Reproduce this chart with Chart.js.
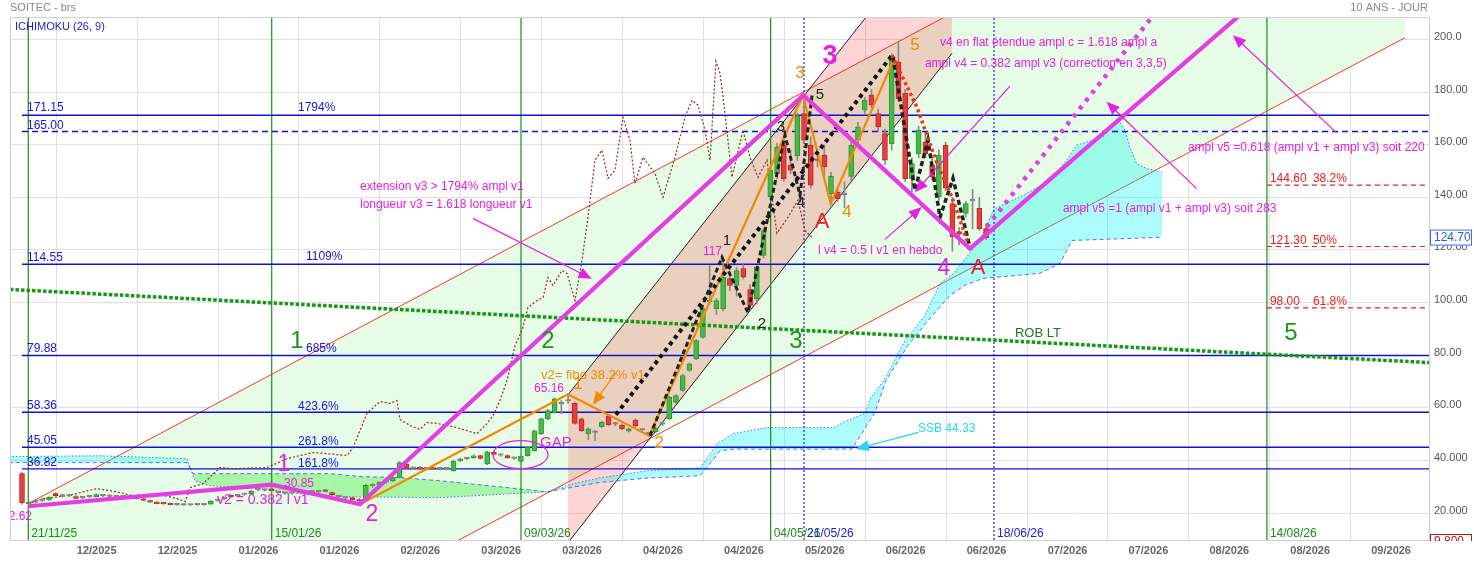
<!DOCTYPE html>
<html>
<head>
<meta charset="utf-8">
<script src="https://cdn.jsdelivr.net/npm/chart.js@4.4.1/dist/chart.umd.min.js"></script>
<style>
html,body{margin:0;padding:0;background:#fff;}
canvas{display:block;}
</style>
</head>
<body>
<canvas id="c" width="1474" height="561"></canvas>
<script>
// x = bar index (one daily bar per unit), y = price
const X_MIN = -1.78, X_MAX = 208.7;
const Y_MIN = 9.8, Y_MAX = 208.5;

const xTickPos = [11.08, 23.08, 35.08, 47.08, 59.08, 71.08, 83.08, 95.08, 107.08, 119.08, 131.08, 143.08, 155.08, 167.08, 179.08, 191.08, 203.08];
const xLabels = ['12/2025','12/2025','01/2026','01/2026','02/2026','03/2026','03/2026','04/2026','04/2026','05/2026','06/2026','06/2026','07/2026','07/2026','08/2026','08/2026','09/2026'];
const yTicks = [20, 40, 60, 80, 100, 120, 140, 160, 180, 200];
const yLabels = ['20.000','40.000','60.00','80.00','100.00','120.00','140.00','160.00','180.00','200.0'];

// daily candles [open, high, low, close], index = bar
const candles = [
  [35.0,35.6,23.4,24.0],[23.6,24.4,22.62,24.1],[24.2,25.0,23.8,24.5],[24.8,25.6,24.4,25.1],[25.0,26.2,24.8,26.0],
  [27.4,27.8,26.4,26.6],[26.5,27.1,26.1,26.7],[26.6,27.2,26.2,26.5],[26.3,26.8,25.5,25.6],[25.9,26.4,25.5,26.0],
  [26.2,26.8,25.9,26.4],[26.3,27.3,26.1,27.1],[26.8,27.1,26.3,26.6],[26.5,26.9,26.1,26.4],[26.3,26.7,25.9,26.2],
  [26.3,26.6,25.9,26.3],[26.1,26.5,25.7,26.0],[26.1,26.4,25.4,25.5],[25.4,25.6,24.7,24.8],[24.8,25.0,24.1,24.2],
  [24.2,24.4,23.5,23.6],[23.9,24.1,23.4,23.5],[23.7,23.9,23.1,23.2],[23.2,23.5,22.9,23.2],[23.2,23.5,22.9,23.1],
  [23.1,23.4,22.9,23.2],[23.2,23.5,22.9,23.2],[23.2,23.5,22.9,23.3],[23.4,24.8,23.3,24.6],[24.8,25.3,24.5,24.9],
  [25.4,25.9,25.1,25.6],[26.8,27.0,26.0,26.2],[26.6,27.1,26.3,26.7],[27.1,27.6,26.8,27.2],[27.3,28.6,27.1,28.4],
  [28.8,29.3,28.5,28.9],[28.7,29.2,28.4,28.8],[29.2,30.85,28.4,28.5],[28.0,28.3,27.5,27.8],[27.5,27.9,27.1,27.5],
  [27.6,28.0,27.2,27.6],[28.1,28.4,27.7,28.1],[28.0,28.4,27.7,28.1],[28.1,28.5,27.8,28.2],[28.1,28.4,27.8,28.1],
  [28.9,29.1,28.2,28.3],[27.8,28.0,26.9,27.0],[26.5,26.8,26.0,26.3],[25.9,26.2,25.4,25.7],[25.9,26.1,25.0,25.1],
  [25.2,25.5,23.4,24.6],[25.0,31.0,24.8,30.6],[30.4,31.2,29.8,30.6],[30.6,32.0,30.3,31.8],[31.8,32.4,31.4,32.0],
  [32.2,33.8,32.0,33.5],[33.6,39.6,33.4,39.2],[38.6,39.2,36.8,37.1],[37.0,37.5,36.6,37.0],[37.4,37.8,36.6,36.8],
  [36.8,37.2,36.4,36.9],[37.3,37.5,36.5,36.7],[36.8,37.2,36.4,36.8],[36.8,37.2,36.4,36.9],[36.1,40.2,35.9,39.8],
  [39.9,40.9,39.6,40.6],[40.7,41.2,40.3,40.8],[41.0,42.2,40.8,41.8],[41.9,42.1,40.6,40.8],[38.7,43.6,38.4,43.3],
  [43.1,43.5,42.1,42.3],[42.0,42.5,41.6,42.1],[41.9,42.2,40.9,41.0],[40.8,41.3,40.4,40.9],[39.7,41.9,39.4,41.7],
  [41.8,45.4,41.6,45.0],[43.7,51.6,43.5,51.3],[50.1,56.2,49.8,55.8],[55.8,59.4,55.5,59.0],[58.3,63.8,58.0,63.4],
  [61.6,62.8,57.8,61.8],[62.6,65.16,61.8,62.9],[61.7,62.2,53.8,54.1],[55.8,56.2,51.0,51.3],[50.1,52.4,47.9,52.0],
  [50.7,51.4,47.5,50.9],[52.9,55.0,52.5,54.5],[57.0,57.4,53.2,53.5],[53.8,54.5,53.3,54.0],[53.5,53.9,51.7,52.0],
  [51.1,52.4,50.8,52.0],[55.4,55.8,52.9,53.2],[51.7,52.2,51.2,51.6],[50.2,50.8,49.4,50.1],[51.0,52.6,50.6,52.2],
  [53.8,54.6,53.3,53.9],[55.9,64.4,55.6,64.0],[62.1,65.0,61.8,64.7],[66.6,72.7,66.3,72.3],[74.2,77.1,73.9,76.7],
  [78.6,86.0,78.3,85.6],[86.8,98.1,86.5,97.7],[100.3,114.1,99.5,100.7],[97.7,101.5,95.5,100.8],[97.7,117.0,96.8,109.7],
  [109.1,111.0,104.5,106.5],[106.5,113.4,102.5,112.2],[112.9,114.5,109.0,109.7],[104.9,106.8,96.9,98.9],[101.5,114.0,99.5,113.5],
  [117.9,128.2,117.0,127.4],[140.1,151.0,139.0,150.3],[149.0,160.5,147.0,159.1],[159.8,162.0,146.0,147.1],[152.2,158.0,149.0,150.3],
  [155.8,172.0,154.0,171.0],[171.8,178.8,160.5,161.7],[159.8,163.0,143.5,144.6],[154.5,158.5,151.5,154.0],[156.0,160.0,147.5,151.5],
  [141.4,149.5,137.6,148.0],[142.0,143.5,138.5,139.5],[141.0,146.0,136.0,141.3],[147.9,161.0,146.5,159.8],[161.7,168.5,160.0,166.8],
  [173.1,178.0,171.5,176.9],[178.8,181.0,174.0,175.0],[171.8,173.5,165.0,166.7],[164.2,166.0,152.5,154.1],[160.4,194.5,158.0,193.4],
  [191.5,199.0,176.5,177.5],[179.5,181.0,146.0,147.1],[147.1,155.0,142.0,152.8],[156.6,167.0,155.0,165.5],[161.0,164.0,155.0,156.6],
  [152.2,155.0,146.5,147.7],[140.1,158.0,139.0,156.0],[159.8,161.0,142.5,143.5],[137.6,140.0,119.5,124.9],[127.0,128.5,122.0,126.0],
  [133.9,138.5,132.5,137.6],[138.7,143.0,128.0,139.0],[135.8,140.0,127.5,128.1],[128.1,130.0,124.0,124.7]
];

// ichimoku kumo borders [x, price]
const ssaPts = [[-3,41.45],[11.57,41.8],[24.47,40.7],[25.66,32.3],[27.89,30.4],[35.3,29.3],[41.23,27.4],[48.65,26.2],[62.0,25.9],[77.87,28.1],
  [81.73,31.2],[85.73,33.4],[92.7,36.1],[100.56,37.2],[103.09,46.4],[105.46,50.2],[110.5,52.5],[120.44,52.5],[121.77,54.4],[125.04,57.9],
  [125.93,64.0],[127.85,70.4],[130.97,85.5],[133.93,95.1],[136.16,107.2],[138.13,111.0],[140.12,117.3],[141.1,120.5],[142.59,126.2],[144.07,135.2],
  [145.32,137.0],[148.52,140.8],[152.48,146.5],[154.96,154.1],[156.44,159.8],[157.93,161.0],[160.38,162.9],[161.87,168.0],[162.86,168.6],[163.6,165.5],
  [164.34,159.1],[165.34,152.8],[166.82,150.9],[169.1,149.6]];
const ssbPts = [[-3,39.2],[24.47,39.2],[25.36,35.0],[45.68,35.0],[50.13,33.9],[56.07,33.5],[62.0,32.3],[70.9,30.0],[77.87,28.1],[85.73,31.7],
  [92.7,33.3],[100.56,34.2],[101.6,37.4],[103.53,43.7],[105.46,44.33],[123.11,44.33],[126.52,58.3],[128.15,70.4],[131.41,83.7],[134.67,94.0],
  [137.64,102.7],[139.87,106.6],[142.54,109.2],[150.99,111.1],[153.96,114.9],[155.74,123.6],[169.1,124.8]];
const chikouPts = [[0.89,23.6],[3.11,25.5],[6.67,26.6],[11.12,29.3],[14.09,28.1],[16.46,26.6],[20.02,27.4],[22.99,25.5],[24.18,24.3],[24.92,29.7],
  [26.85,31.2],[29.37,37.3],[31.3,36.9],[36.34,37.3],[39.31,40.7],[41.23,41.9],[43.16,43.0],[45.24,42.6],[48.21,41.9],[49.1,44.9],
  [51.17,57.9],[53.1,62.4],[54.58,61.7],[55.62,62.8],[56.06,55.6],[57.55,53.3],[59.03,51.8],[60.07,54.4],[61.55,54.1],[63.04,53.3],
  [64.52,52.5],[66.01,51.3],[67.49,50.2],[68.97,54.0],[69.86,57.1],[70.9,62.8],[71.94,70.4],[73.13,83.7],[74.16,89.4],[75.05,98.1],
  [76.39,100.8],[77.28,101.9],[78.02,109.5],[78.76,106.5],[80.1,112.2],[80.84,111.1],[82.03,100.8],[83.06,116.0],[83.95,132.4],[84.99,154.1],
  [86.03,157.9],[86.92,147.2],[87.96,150.3],[89.14,170.4],[90.18,161.7],[90.92,145.3],[92.11,155.2],[93.89,149.1],[95.08,140.0],[96.86,155.2],
  [98.34,170.4],[99.38,176.9],[100.27,175.0],[101.31,165.5],[102.05,154.1],[102.94,191.7],[103.53,187.2],[104.27,172.0],[105.31,147.6],[106.94,165.5],
  [107.98,155.2],[109.17,147.6],[110.5,154.1],[111.98,126.3],[113.62,132.4],[115.1,138.9],[116.14,127.4],[117.17,124.8]];

// drawn channels, trend lines and wave counts [x, price]
const channelUpper = [[0.89,23.6],[205.13,301.3]];
const channelLower = [[0.89,-77.1],[205.13,200.6]];
const blackUpper = [[81.0,65.0],[137.94,249.8]];
const blackLower = [[81.0,8.8],[137.94,194.7]];
const robLT = [[-1.78,105.0],[208.7,77.2]];
const waveMain = [[0.93,22.62],[37.04,30.85],[50.13,23.4],[115.88,178.8],[140.61,120.5],[185,218.9]];
const waveAlt = [[143.1,128.7],[170,216.3]];
const waveOrange = [[50.13,23.4],[80.99,65.16],[93.04,49.4],[115.84,178.8],[119.95,137.6],[129.5,193.4]];
const blackDotted = [[88.1,57.4],[129.19,194.4]];
const subWave3 = [[93.15,49.4],[103.83,117.2],[107.68,96.2],[113.17,163.6],[115.4,140.8],[117.2,178.8]];
const subWave4 = [[129.19,193.3],[132.45,142.7],[134.38,161.7],[136.16,132.4],[138.09,147.2],[140.61,121.0]];
const redDotted = [[129.04,194.0],[132.75,174.2],[135.72,152.9],[137.95,140.0],[140.32,122.5]];

const levels = [171.15, 165.00, 114.55, 79.88, 58.36, 45.05, 36.82];
const fibLevels = [144.60, 121.30, 98.00];
const greenDates = [[0.93,'21/11/25'],[37.04,'15/01/26'],[74.02,'09/03/26'],[111.05,'04/05/26'],[184.66,'14/08/26']];
const blueDates = [[116.0,'21/05/26'],[144.17,'18/06/26']];
const lastPrice = 124.70;
const lowPrice = 9.800;

// annotation text: [text, x, price, style, align]
const notes = [
  ['171.15',0.74,173.86,'blue','left'],['165.00',0.74,167.39,'blue','left'],['1794%',40.94,173.86,'blue','left'],
  ['114.55',0.74,117.17,'blue','left'],['1109%',42.12,117.55,'blue','left'],
  ['79.88',0.74,82.54,'blue','left'],['685%',42.12,82.54,'blue','left'],
  ['58.36',0.74,60.85,'blue','left'],['423.6%',40.94,60.47,'blue','left'],
  ['45.05',0.74,47.53,'blue','left'],['261.8%',40.94,47.15,'blue','left'],
  ['36.82',0.74,39.16,'blue','left'],['161.8%',40.94,38.78,'blue','left'],
  ['144.60',185.1,147.2,'red','left'],['38.2%',191.48,147.2,'red','left'],
  ['121.30',185.1,123.63,'red','left'],['50%',191.48,123.63,'red','left'],
  ['98.00',185.1,100.42,'red','left'],['61.8%',191.48,100.42,'red','left'],
  ['1',40.79,85.2,'green','center'],['2',78.02,85.2,'green','center'],['3',114.8,85.2,'green','center'],['5',188.22,88.25,'green','center'],
  ['ROB LT',147.28,88.25,'rob','left'],
  ['1',38.86,38.4,'magBig','center'],['2',51.91,19.4,'magBig','center'],['3',119.85,193.3,'magTop','center'],['4',136.75,113.0,'magBig','center'],
  ['30.85',38.86,31.2,'mag','left'],['22.62',-2.97,18.6,'mag','left'],['65.16',75.94,67.3,'mag','left'],['117',101.0,119.45,'mag','left'],
  ['v2 = 0.382 l v1',28.92,25.1,'magMid','left'],['GAP',76.83,46.8,'magGap','left'],
  ['extension v3 > 1794% ampl v1',50.13,144.2,'mag','left'],
  ['longueur v3 = 1.618 longueur v1',50.13,137.33,'mag','left'],
  ['v4 en flat étendue ampl c = 1.618 ampl a',136.16,198.6,'mag','left'],
  ['ampl v4 = 0.382 ampl v3 (correction en 3,3,5)',133.93,190.6,'mag','left'],
  ['l v4 = 0.5 l v1 en hebdo',118.06,119.8,'mag','left'],
  ['ampl v5 =0.618 (ampl v1 + ampl v3) soit 220',172.94,159.0,'mag','left'],
  ['ampl v5 =1 (ampl v1 + ampl v3) soit 283',154.4,135.8,'mag','left'],
  ['A',118.66,130.5,'redBig','center'],['A',141.8,113.0,'redBig','center'],
  ['1',82.47,68.9,'orange','center'],['2',94.48,46.4,'orange','center'],['3',115.39,187.2,'orange','center'],
  ['4',122.37,134.3,'orange','center'],['5',132.45,197.8,'orange','center'],
  ['v2= fibo 38.2% v1',76.98,72.3,'orangeTxt','left'],
  ['1',104.57,123.6,'black','center'],['2',109.76,92.0,'black','center'],['3',112.58,166.6,'black','center'],
  ['4',115.55,137.7,'black','center'],['5',118.37,178.8,'black','center'],
  ['SSB 44.33',132.9,52.1,'cyan','left']
];
// arrows: [x1, p1, x2, p2, color]
const arrows = [
  [66.89,132.0,84.5,109.06,'#e61ee6'],
  [146.54,182.23,132.45,141.9,'#e61ee6'],
  [128.0,124.0,133.45,136.3,'#e61ee6'],
  [174.23,143.3,160.88,176.26,'#e61ee6'],
  [195.0,164.46,179.62,201.6,'#e61ee6'],
  [88.1,73.4,84.69,61.2,'#f08a00'],
  [132.97,50.7,123.7,44.4,'#22d8ee']
];
const gapCircle = [73.94, 42.2];

const FONT = "'Liberation Sans', Arial, sans-serif";
const styles = {
  blue: ['#1414dc', 12, ''], red: ['#ee1c1c', 12, ''], green: ['#1c961c', 24, ''], rob: ['#1c7a1c', 13, ''],
  mag: ['#e61ee6', 12, ''], magMid: ['#e61ee6', 14, ''], magGap: ['#e61ee6', 15, ''], magBig: ['#e61ee6', 23, ''],
  magTop: ['#e61ee6', 27, 'bold'], redBig: ['#ee1c1c', 22, ''], orange: ['#f08a00', 17, ''], orangeTxt: ['#f08a00', 13, ''],
  black: ['#222', 15, ''], cyan: ['#22d8ee', 12, '']
};

const pts = a => a.map(p => ({x: p[0], y: p[1]}));
function line(data, o) {
  return Object.assign({type: 'line', data: pts(data), pointRadius: 0, borderWidth: 1, fill: false, tension: 0}, o);
}

const datasets = [
  line(channelUpper, {borderColor: '#f03a24', fill: 1, backgroundColor: 'rgb(230,252,230)', order: 100}),
  line(channelLower, {borderColor: '#f03a24', order: 99}),
  line(blackUpper, {borderColor: '#222', fill: 3, backgroundColor: 'rgba(255,0,0,0.17)', order: 98}),
  line(blackLower, {borderColor: '#222', order: 97}),
  line(ssaPts, {borderColor: 'rgba(70,100,230,0.9)', borderDash: [1.5, 2], order: 96,
    fill: {target: 5, above: 'rgba(0,245,245,0.32)', below: 'rgba(0,230,0,0.28)'}}),
  line(ssbPts, {borderColor: 'rgba(70,100,230,0.9)', borderDash: [4, 3], order: 95})
];
levels.forEach(v => datasets.push(line([[0, v], [X_MAX, v]], {borderColor: '#1010d8', borderWidth: 1.4, borderDash: v === 165 ? [6, 4] : [], order: 90})));
fibLevels.forEach(v => datasets.push(line([[184.66, v], [X_MAX, v]], {borderColor: '#ee2020', borderWidth: 1.2, borderDash: [5, 4], order: 90})));
greenDates.forEach(d => datasets.push(line([[d[0], Y_MIN], [d[0], Y_MAX]], {borderColor: '#1a8c1a', borderWidth: 1.2, order: 90})));
blueDates.forEach(d => datasets.push(line([[d[0], Y_MIN], [d[0], Y_MAX]], {borderColor: '#2020cc', borderWidth: 1.2, borderDash: [2, 2], order: 90})));
datasets.push(line(chikouPts, {borderColor: '#8e2c1e', borderWidth: 1.2, borderDash: [2, 2], order: 80}));

const candleColor = r => {
  const d = r.y[1] - r.y[0];
  return Math.abs(d) < 0.35 ? '#8a8a8a' : d > 0 ? '#46b946' : '#e53e3e';
};
const candleEdge = r => {
  const d = r.y[1] - r.y[0];
  return Math.abs(d) < 0.35 ? '#7a7a7a' : d > 0 ? '#2f962f' : '#c02424';
};
datasets.push({type: 'bar', data: candles.map((c, i) => ({x: i, y: [c[2], c[1]]})), barThickness: 1,
  backgroundColor: '#8a8a8a', grouped: false, order: 71});
datasets.push({type: 'bar', data: candles.map((c, i) => ({x: i, y: [c[0], c[3]]})), barThickness: 5,
  backgroundColor: ctx => ctx.raw ? candleColor(ctx.raw) : '#888', borderColor: ctx => ctx.raw ? candleEdge(ctx.raw) : '#777',
  borderWidth: 1, borderSkipped: false, minBarLength: 1.5, grouped: false, order: 70});

datasets.push(line(robLT, {borderColor: '#129a12', borderWidth: 3.5, borderDash: [3.5, 2], order: 60}));
datasets.push(line(waveOrange, {borderColor: '#f08a00', borderWidth: 2.2, order: 50}));
datasets.push(line(blackDotted, {borderColor: '#111', borderWidth: 4, borderDash: [4, 4], order: 49}));
datasets.push(line(subWave3, {borderColor: '#222', borderWidth: 3, borderDash: [5, 3], order: 48}));
datasets.push(line(subWave4, {borderColor: '#222', borderWidth: 3.5, borderDash: [5, 3], order: 48}));
datasets.push(line(redDotted, {borderColor: '#e83a1a', borderWidth: 3.5, borderDash: [3, 3], order: 47}));
datasets.push(line(waveMain, {borderColor: '#e63ce6', borderWidth: 4.2, order: 40}));
datasets.push(line(waveAlt, {borderColor: '#e63ce6', borderWidth: 4.5, borderDash: [4, 6], order: 39}));

const annotate = {
  id: 'annotate',
  afterDatasetsDraw(chart) {
    const {ctx, chartArea: a, scales: {x, y}} = chart;
    const P = (vx, vy) => [x.getPixelForValue(vx), y.getPixelForValue(vy)];
    ctx.save();
    ctx.beginPath();
    ctx.rect(a.left, a.top, a.right - a.left, a.bottom - a.top);
    ctx.clip();

    // gap ellipse
    const [ex, ey] = P(gapCircle[0], gapCircle[1]);
    ctx.strokeStyle = '#e61ee6';
    ctx.lineWidth = 1.2;
    ctx.beginPath();
    ctx.ellipse(ex, ey, 27.5, 14, 0, 0, Math.PI * 2);
    ctx.stroke();

    arrows.forEach(r => {
      const [x1, y1] = P(r[0], r[1]);
      const [x2, y2] = P(r[2], r[3]);
      const ang = Math.atan2(y2 - y1, x2 - x1);
      const hl = 13, hw = 5.5;
      ctx.strokeStyle = r[4];
      ctx.fillStyle = r[4];
      ctx.lineWidth = 1.2;
      ctx.beginPath();
      ctx.moveTo(x1, y1);
      ctx.lineTo(x2 - Math.cos(ang) * hl * 0.6, y2 - Math.sin(ang) * hl * 0.6);
      ctx.stroke();
      ctx.beginPath();
      ctx.moveTo(x2, y2);
      ctx.lineTo(x2 - hl * Math.cos(ang) + hw * Math.sin(ang), y2 - hl * Math.sin(ang) - hw * Math.cos(ang));
      ctx.lineTo(x2 - hl * Math.cos(ang) - hw * Math.sin(ang), y2 - hl * Math.sin(ang) + hw * Math.cos(ang));
      ctx.closePath();
      ctx.fill();
    });

    ctx.textBaseline = 'middle';
    notes.forEach(n => {
      const s = styles[n[3]];
      const [px, py] = P(n[1], n[2]);
      ctx.font = (s[2] ? s[2] + ' ' : '') + s[1] + 'px ' + FONT;
      ctx.fillStyle = s[0];
      ctx.textAlign = n[4];
      ctx.fillText(n[0], px, py);
    });

    ctx.font = '12px ' + FONT;
    ctx.textAlign = 'left';
    greenDates.forEach(d => {
      ctx.fillStyle = '#1a8c1a';
      ctx.fillText(d[1], x.getPixelForValue(d[0]) + 3, a.bottom - 6);
    });
    blueDates.forEach(d => {
      ctx.fillStyle = '#2020cc';
      ctx.fillText(d[1], x.getPixelForValue(d[0]) + 3, a.bottom - 6);
    });
    ctx.restore();

    // plot frame
    ctx.save();
    ctx.strokeStyle = '#cfcfcf';
    ctx.lineWidth = 1;
    ctx.strokeRect(a.left + 0.5, a.top + 0.5, a.right - a.left, a.bottom - a.top);

    // headers
    ctx.textBaseline = 'middle';
    ctx.font = '11px ' + FONT;
    ctx.fillStyle = '#888';
    ctx.textAlign = 'left';
    ctx.fillText('SOITEC - brs', 10, 8);
    ctx.textAlign = 'right';
    ctx.fillText('10 ANS - JOUR', 1428, 8);
    ctx.textAlign = 'left';
    ctx.fillStyle = '#1a1acc';
    ctx.fillText('ICHIMOKU (26, 9)', a.left + 5, a.top + 10);

    // last price box
    const ly = y.getPixelForValue(lastPrice);
    ctx.fillStyle = '#fff';
    ctx.fillRect(a.right + 1, ly - 8, 42, 16);
    ctx.strokeStyle = '#3a6cf0';
    ctx.strokeRect(a.right + 1.5, ly - 7.5, 41, 15);
    ctx.font = '12px ' + FONT;
    ctx.fillStyle = '#2a5ce0';
    ctx.fillText(lastPrice.toFixed(2), a.right + 5, ly);

    // low box, cut by axis
    ctx.beginPath();
    ctx.rect(a.right, 0, 60, a.bottom + 1);
    ctx.clip();
    const by = a.bottom + 2;
    ctx.fillStyle = '#fff';
    ctx.fillRect(a.right + 1, by - 8, 42, 16);
    ctx.strokeStyle = '#c01010';
    ctx.strokeRect(a.right + 1.5, by - 7.5, 41, 15);
    ctx.fillStyle = '#c01010';
    ctx.fillText(lowPrice.toFixed(3), a.right + 5, by);
    ctx.restore();
  }
};

new Chart(document.getElementById('c'), {
  type: 'line',
  data: {datasets},
  options: {
    responsive: false,
    animation: false,
    devicePixelRatio: 1,
    events: [],
    layout: {padding: {left: 10, top: 17, right: 0, bottom: 0}},
    plugins: {legend: {display: false}, tooltip: {enabled: false}},
    scales: {
      x: {
        type: 'linear', min: X_MIN, max: X_MAX, offset: false,
        afterBuildTicks: s => { s.ticks = xTickPos.map(v => ({value: v})); },
        afterFit: s => { s.height = 21; },
        ticks: {autoSkip: false, maxRotation: 0, padding: 4, color: '#666',
          font: {size: 11, weight: 'bold', family: FONT}, callback: (v, i) => xLabels[i]},
        grid: {color: '#e0e0e0', drawTicks: false},
        border: {display: true, color: '#c8c8c8'}
      },
      y: {
        type: 'linear', position: 'right', min: Y_MIN, max: Y_MAX,
        afterBuildTicks: s => { s.ticks = yTicks.map(v => ({value: v})); },
        afterFit: s => { s.width = 45; },
        ticks: {padding: 5, color: '#555', labelOffset: -2.5,
          font: {size: 11, family: FONT}, callback: (v, i) => yLabels[i]},
        grid: {color: '#e0e0e0', drawTicks: false},
        border: {display: true, color: '#c8c8c8'}
      }
    }
  },
  plugins: [annotate]
});
</script>
</body>
</html>
